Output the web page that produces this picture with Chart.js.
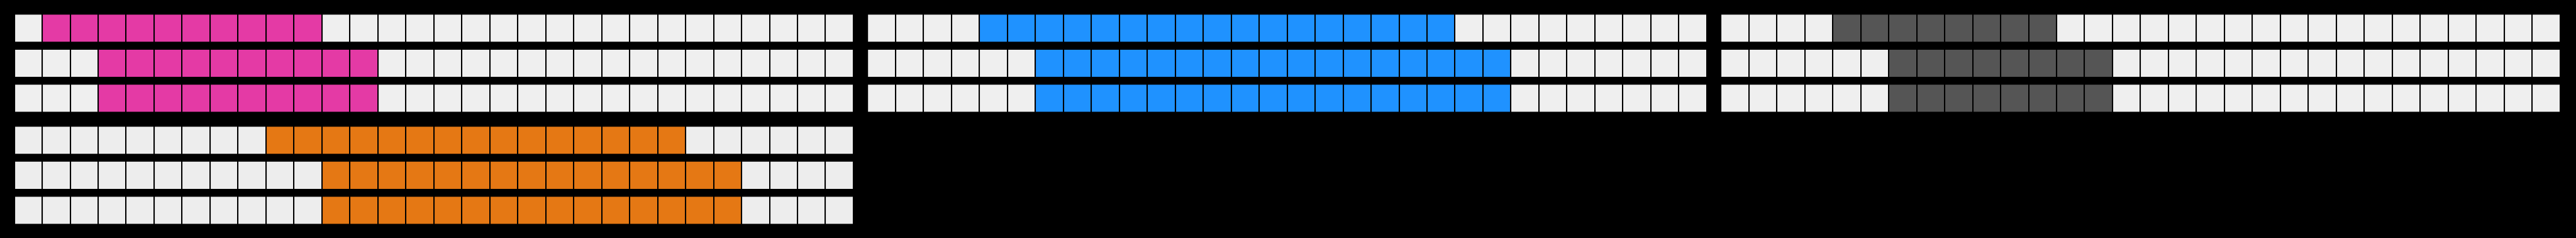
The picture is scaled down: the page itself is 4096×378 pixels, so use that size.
<!DOCTYPE html>
<html><head><meta charset="utf-8">
<script src="https://cdn.jsdelivr.net/npm/chart.js@4.4.0/dist/chart.umd.min.js"></script>
<style>
html,body{margin:0;padding:0;background:#000;width:4096px;height:378px;overflow:hidden}
canvas{position:absolute;left:0;top:0}
</style></head><body>
<canvas id="c0" width="4096" height="378"></canvas>
<canvas id="c1" width="4096" height="378"></canvas>
<canvas id="c2" width="4096" height="378"></canvas>
<canvas id="c3" width="4096" height="378"></canvas>
<script>
// ---- data ----
const rowLabels = ['1', '2', '3'];
const cellsPerRow = 30;
const pinkStart = [1, 3, 3];
const pinkCount = [10, 10, 10];
const blueStart = [4, 6, 6];
const blueCount = [17, 17, 17];
const darkStart = [4, 6, 6];
const darkCount = [8, 8, 8];
const orangeStart = [9, 11, 11];
const orangeCount = [15, 15, 15];

// ---- layout / style ----
const S = 0.695;
const W = cellsPerRow * 64 * S;      // chart area width
const H = 3 * 80 * S;                // chart area height
const gap = 3 * S;
const panels = [
  {id: 'c0', start: pinkStart,   count: pinkCount,   color: '#E43AA5', empty: '#EFEFEF', left: 34 * S - gap / 2,     top: 64.5 * S - 40 * S},
  {id: 'c1', start: blueStart,   count: blueCount,   color: '#1F92FF', empty: '#EFEFEF', left: 1986.3 * S - gap / 2, top: 64.5 * S - 40 * S},
  {id: 'c2', start: darkStart,   count: darkCount,   color: '#555555', empty: '#EFEFEF', left: 3938.6 * S - gap / 2, top: 64.5 * S - 40 * S},
  {id: 'c3', start: orangeStart, count: orangeCount, color: '#E57814', empty: '#EDEDED', left: 34 * S - gap / 2,     top: 320.5 * S - 40 * S}
];

panels.forEach(p => {
  const trail = p.start.map((s, i) => cellsPerRow - s - p.count[i]);
  new Chart(document.getElementById(p.id), {
    type: 'bar',
    data: {
      labels: rowLabels,
      datasets: [
        {data: p.start, backgroundColor: p.empty},
        {data: p.count, backgroundColor: p.color},
        {data: trail,   backgroundColor: p.empty}
      ]
    },
    options: {
      indexAxis: 'y',
      responsive: false,
      animation: false,
      events: [],
      layout: {padding: {left: p.left, right: 4096 - p.left - W, top: p.top, bottom: 378 - p.top - H}},
      datasets: {bar: {barThickness: 61 * S, borderWidth: 0}},
      plugins: {legend: {display: false}, tooltip: {enabled: false}},
      scales: {
        x: {
          type: 'linear', min: 0, max: cellsPerRow, stacked: true, display: true,
          ticks: {display: false, stepSize: 1, maxTicksLimit: 100, autoSkip: false},
          grid: {color: '#000000', lineWidth: gap, drawTicks: false, z: 1},
          border: {display: false}
        },
        y: {type: 'category', stacked: true, display: false}
      }
    }
  });
});
</script>
</body></html>
